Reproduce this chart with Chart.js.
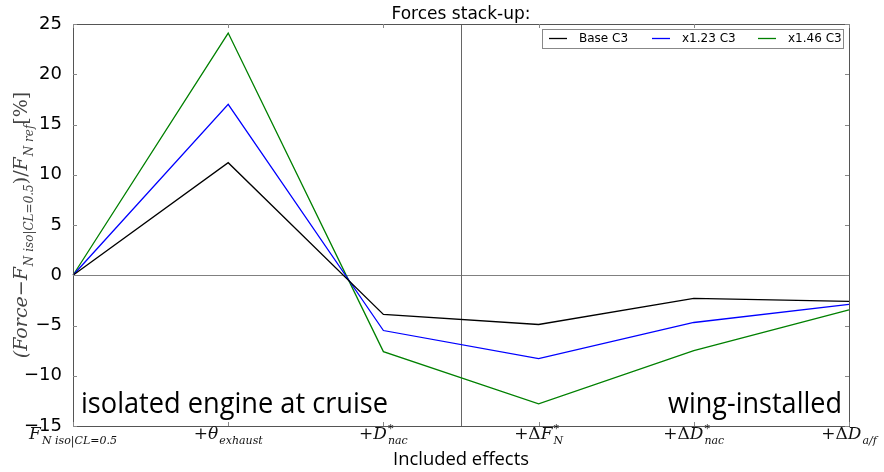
<!DOCTYPE html>
<html>
<head>
<meta charset="utf-8">
<script src="https://cdn.jsdelivr.net/npm/chart.js@4.4.1/dist/chart.umd.min.js"></script>
<style>
	html, body { margin: 0; padding: 0; background: #fff; }
	#wrap { width: 884px; height: 472px; }
</style>
</head>
<body>
<div id="wrap"><canvas id="myChart" width="884" height="472"></canvas></div>
<script>
// ---------------- data ----------------
const effects = ['F_N iso|CL=0.5', '+theta_exhaust', '+D*_nac', '+dF*_N', '+dD*_nac', '+dD_a/f'];
const baseC3 = [0, 11.2, -3.9, -4.9, -2.3, -2.6];
const x123C3 = [0, 17.0, -5.5, -8.3, -4.7, -2.9];
const x146C3 = [0, 24.1, -7.6, -12.8, -7.5, -3.45];
const seriesNames = ['Base C3', 'x1.23 C3', 'x1.46 C3'];
const seriesColors = ['#000000', '#0000ff', '#008000'];
const yMin = -15, yMax = 25, yStep = 5;
const dividerAt = 2.5; // between isolated and wing-installed effects

// math-style tick labels (drawn as text segments)
const effectLabels = [
	[{t: 'F', it: true, sub: 'N iso|CL=0.5'}],
	[{t: '+'}, {t: 'θ', it: true, sub: 'exhaust'}],
	[{t: '+'}, {t: 'D', it: true, sup: '*', sub: 'nac'}],
	[{t: '+Δ'}, {t: 'F', it: true, sup: '*', sub: 'N'}],
	[{t: '+Δ'}, {t: 'D', it: true, sup: '*', sub: 'nac'}],
	[{t: '+Δ'}, {t: 'D', it: true, sub: 'a/f'}]
];
const yTitle = [
	{t: '(Force', it: true}, {t: '−'}, {t: 'F', it: true, sub: 'N iso|CL=0.5'},
	{t: ')/'}, {t: 'F', it: true, sub: 'N ref'}, {t: '[%]'}
];

const MATH = '"DejaVu Serif", serif';

function segWidth(ctx, s, m, sb) {
	ctx.font = (s.it ? 'italic ' : '') + m + 'px ' + MATH;
	let w = ctx.measureText(s.t).width;
	let extra = 0;
	ctx.font = 'italic ' + sb + 'px ' + MATH;
	if (s.sub) extra = Math.max(extra, ctx.measureText(s.sub).width);
	if (s.sup) extra = Math.max(extra, ctx.measureText(s.sup).width);
	return w + extra + (extra ? 1 : 0);
}

function drawMath(ctx, segs, cx, base, m, sb) {
	let total = segs.reduce((a, s) => a + segWidth(ctx, s, m, sb), 0);
	let x = cx - total / 2;
	ctx.textAlign = 'left';
	ctx.textBaseline = 'alphabetic';
	segs.forEach(s => {
		ctx.font = (s.it ? 'italic ' : '') + m + 'px ' + MATH;
		ctx.fillText(s.t, x, base);
		let w = ctx.measureText(s.t).width;
		ctx.font = 'italic ' + sb + 'px ' + MATH;
		if (s.sub) ctx.fillText(s.sub, x + w + 1, base + m * 0.3);
		if (s.sup) ctx.fillText(s.sup, x + w + 1, base - m * 0.4);
		x += segWidth(ctx, s, m, sb);
	});
}

function fitText(ctx, text, font, x, y, width, align) {
	ctx.font = font;
	const m = ctx.measureText(text).width;
	ctx.save();
	const left = align === 'right' ? x - width : (align === 'center' ? x - width / 2 : x);
	ctx.translate(left, y);
	ctx.scale(width / m, 1);
	ctx.textAlign = 'left';
	ctx.textBaseline = 'alphabetic';
	ctx.fillText(text, 0, 0);
	ctx.restore();
}

const decorPlugin = {
	id: 'decor',
	beforeDatasetsDraw(chart) {
		const {ctx, chartArea: a, scales: {x, y}} = chart;
		ctx.save();
		// zero line and divider
		ctx.lineWidth = 1;
		ctx.strokeStyle = '#808080';
		const y0 = Math.round(y.getPixelForValue(0)) + 0.5;
		ctx.beginPath(); ctx.moveTo(a.left, y0); ctx.lineTo(a.right, y0); ctx.stroke();
		ctx.strokeStyle = '#666666';
		const xd = Math.round(x.getPixelForValue(dividerAt)) + 0.5;
		ctx.beginPath(); ctx.moveTo(xd, a.top); ctx.lineTo(xd, a.bottom); ctx.stroke();
		ctx.restore();
	},
	afterDraw(chart) {
		const {ctx, chartArea: a, scales: {x, y}} = chart;
		ctx.save();
		// frame
		ctx.strokeStyle = '#555555';
		ctx.lineWidth = 1;
		ctx.strokeRect(a.left + 0.5, a.top + 0.5, a.right - a.left, a.bottom - a.top);
		// inner ticks
		ctx.strokeStyle = '#888888';
		effects.forEach((e, i) => {
			const px = Math.round(x.getPixelForValue(i)) + 0.5;
			ctx.beginPath();
			ctx.moveTo(px, a.top); ctx.lineTo(px, a.top + 4);
			ctx.moveTo(px, a.bottom); ctx.lineTo(px, a.bottom - 4);
			ctx.stroke();
		});
		for (let v = yMin; v <= yMax; v += yStep) {
			const py = Math.round(y.getPixelForValue(v)) + 0.5;
			ctx.beginPath();
			ctx.moveTo(a.left, py); ctx.lineTo(a.left + 4, py);
			ctx.moveTo(a.right, py); ctx.lineTo(a.right - 4, py);
			ctx.stroke();
		}
		// x tick labels
		ctx.fillStyle = '#111';
		effectLabels.forEach((segs, i) => {
			drawMath(ctx, segs, x.getPixelForValue(i), a.bottom + 13, 17, 11);
		});
		// y title
		ctx.save();
		ctx.translate(27, 225);
		ctx.rotate(-Math.PI / 2);
		ctx.fillStyle = '#444';
		drawMath(ctx, yTitle, 0, 0, 19, 12);
		ctx.restore();
		// titles
		ctx.fillStyle = '#000';
		fitText(ctx, 'Forces stack-up:', '17px "DejaVu Sans"', 461, 19, 139, 'center');
		fitText(ctx, 'Included effects', '18px "Open Sans"', 461, 465, 136, 'center');
		// region annotations
		fitText(ctx, 'isolated engine at cruise', '29px "Open Sans"', 81, 413, 307, 'left');
		fitText(ctx, 'wing-installed', '29px "Open Sans"', 842, 413, 174, 'right');
		// legend
		const lx = 542, ly = 29, lw = 301, lh = 19;
		ctx.fillStyle = '#fff';
		ctx.fillRect(lx, ly, lw, lh);
		ctx.strokeStyle = '#888';
		ctx.strokeRect(lx + 0.5, ly + 0.5, lw, lh);
		const items = [[549, 579], [652, 682], [758, 788]];
		ctx.font = '12px "DejaVu Sans"';
		ctx.textBaseline = 'middle';
		ctx.textAlign = 'left';
		seriesNames.forEach((n, i) => {
			ctx.strokeStyle = seriesColors[i];
			ctx.lineWidth = 1.3;
			ctx.beginPath();
			ctx.moveTo(items[i][0], ly + 9.5); ctx.lineTo(items[i][0] + 18, ly + 9.5);
			ctx.stroke();
			ctx.fillStyle = '#000';
			ctx.fillText(n, items[i][1], ly + 10);
		});
		ctx.restore();
	}
};

const ctx = document.getElementById('myChart');
const myChart = new Chart(ctx, {
	type: 'line',
	data: {
		labels: effects,
		datasets: [baseC3, x123C3, x146C3].map((d, i) => ({
			label: seriesNames[i],
			data: d,
			borderColor: seriesColors[i],
			backgroundColor: seriesColors[i],
			borderWidth: 1.3,
			pointRadius: 0,
			tension: 0,
			fill: false
		}))
	},
	options: {
		responsive: false,
		animation: false,
		layout: {padding: {left: 0, right: 35, top: 24, bottom: 0}},
		plugins: {
			legend: {display: false},
			title: {display: false},
			tooltip: {enabled: false}
		},
		scales: {
			x: {
				offset: false,
				grid: {display: false},
				border: {display: false},
				ticks: {display: false},
				afterFit(scale) { scale.height = 46; }
			},
			y: {
				min: yMin,
				max: yMax,
				grid: {display: false},
				border: {display: false},
				ticks: {
					stepSize: yStep,
					color: '#000',
					padding: 3,
					font: {family: '"DejaVu Sans"', size: 18},
					callback: v => String(v).replace('-', '−')
				},
				afterFit(scale) { scale.width = 73; }
			}
		}
	},
	plugins: [decorPlugin]
});
</script>
</body>
</html>
